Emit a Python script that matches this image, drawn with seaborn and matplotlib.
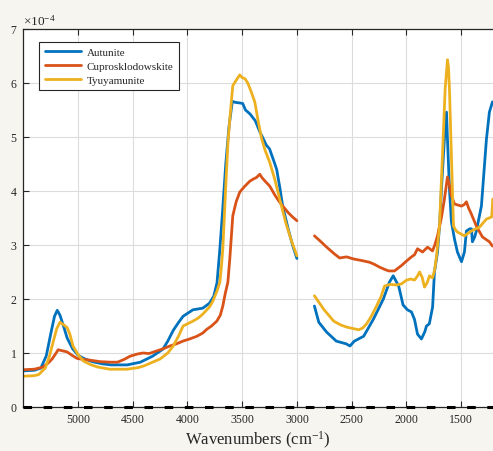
import numpy as np
import pandas as pd
import seaborn as sns
import matplotlib.pyplot as plt

# wavenumbers (cm-1) and absorbance (x1e-4); two segments, gap 3000-2840 removed
autunite_wn_a = [5500, 5400, 5340, 5290, 5250, 5215, 5190, 5165, 5130, 5100, 5050, 5000, 4950, 4870,
                 4780, 4700, 4550, 4430, 4320, 4225, 4180, 4130, 4080, 4040, 3950, 3860, 3800, 3760,
                 3730, 3705, 3680, 3650, 3620, 3590, 3560, 3520, 3495, 3470, 3430, 3380, 3340, 3320,
                 3280, 3250, 3210, 3185, 3155, 3130, 3080, 3040, 3000]
autunite_a = [0.67, 0.68, 0.72, 0.95, 1.35, 1.68, 1.79, 1.70, 1.48, 1.28, 1.08, 0.96, 0.90, 0.84,
              0.80, 0.78, 0.78, 0.83, 0.94, 1.07, 1.22, 1.42, 1.57, 1.68, 1.80, 1.83, 1.92, 2.05,
              2.30, 2.90, 3.60, 4.50, 5.20, 5.66, 5.64, 5.63, 5.62, 5.50, 5.43, 5.30, 5.10, 5.02,
              4.85, 4.78, 4.55, 4.40, 4.05, 3.72, 3.30, 3.00, 2.75]
autunite_wn_b = [2840, 2800, 2730, 2640, 2550, 2515, 2475, 2390, 2300, 2210, 2155, 2120, 2070, 2030,
                 1990, 1953, 1925, 1898, 1862, 1830, 1816, 1790, 1760, 1743, 1715, 1695, 1679, 1652,
                 1633, 1624, 1606, 1588, 1560, 1533, 1496, 1469, 1451, 1420, 1405, 1396, 1375, 1360,
                 1314, 1268, 1241, 1213]
autunite_b = [1.87, 1.57, 1.39, 1.22, 1.17, 1.13, 1.22, 1.31, 1.63, 2.00, 2.31, 2.43, 2.24, 1.89,
              1.80, 1.76, 1.62, 1.35, 1.26, 1.40, 1.50, 1.54, 1.85, 2.50, 2.87, 3.40, 4.04, 4.96,
              5.46, 4.96, 4.04, 3.43, 3.11, 2.87, 2.69, 2.87, 3.26, 3.30, 3.30, 3.06, 3.15, 3.26,
              3.72, 4.96, 5.46, 5.65]

cupro_wn_a = [5500, 5400, 5320, 5270, 5237, 5200, 5182, 5140, 5100, 5050, 5009, 4950, 4900, 4800,
              4700, 4640, 4580, 4525, 4460, 4407, 4350, 4279, 4220, 4160, 4100, 4042, 3980, 3914,
              3860, 3823, 3780, 3732, 3700, 3677, 3655, 3631, 3613, 3586, 3555, 3522, 3480, 3431,
              3400, 3370, 3339, 3320, 3290, 3248, 3200, 3160, 3129, 3080, 3040, 3000]
cupro_a = [0.69, 0.70, 0.74, 0.82, 0.89, 1.00, 1.06, 1.04, 1.02, 0.95, 0.90, 0.88, 0.87, 0.84,
           0.83, 0.83, 0.88, 0.94, 0.98, 1.00, 0.99, 1.04, 1.08, 1.13, 1.17, 1.22, 1.26, 1.31,
           1.37, 1.44, 1.50, 1.59, 1.70, 1.87, 2.10, 2.31, 2.75, 3.54, 3.80, 3.98, 4.08, 4.18,
           4.22, 4.25, 4.31, 4.25, 4.18, 4.09, 3.92, 3.80, 3.72, 3.60, 3.52, 3.45]
cupro_wn_b = [2840, 2780, 2728, 2660, 2610, 2546, 2480, 2427, 2380, 2336, 2290, 2245, 2200, 2162,
              2108, 2070, 2044, 2000, 1953, 1925, 1898, 1852, 1806, 1761, 1740, 1715, 1680, 1652,
              1624, 1606, 1588, 1560, 1496, 1470, 1451, 1430, 1405, 1360, 1305, 1241, 1213]
cupro_b = [3.17, 3.06, 2.96, 2.84, 2.76, 2.78, 2.74, 2.72, 2.70, 2.68, 2.64, 2.59, 2.55, 2.52,
           2.52, 2.58, 2.62, 2.70, 2.78, 2.82, 2.93, 2.87, 2.96, 2.89, 3.00, 3.17, 3.50, 3.85,
           4.26, 4.10, 3.91, 3.76, 3.72, 3.75, 3.80, 3.68, 3.57, 3.35, 3.15, 3.06, 2.98]

tyuya_wn_a = [5500, 5400, 5360, 5300, 5260, 5228, 5195, 5165, 5130, 5100, 5075, 5046, 5000, 4950,
              4880, 4820, 4710, 4550, 4450, 4400, 4330, 4250, 4180, 4130, 4080, 4040, 3990, 3950,
              3900, 3860, 3800, 3768, 3730, 3704, 3690, 3677, 3650, 3630, 3613, 3586, 3555, 3522,
              3500, 3475, 3449, 3420, 3385, 3350, 3321, 3290, 3248, 3200, 3157, 3100, 3050, 3000]
tyuya_a = [0.57, 0.58, 0.60, 0.72, 0.95, 1.20, 1.45, 1.57, 1.52, 1.47, 1.35, 1.13, 0.97, 0.85,
           0.78, 0.74, 0.70, 0.70, 0.73, 0.76, 0.82, 0.89, 1.00, 1.13, 1.32, 1.50, 1.55, 1.59,
           1.65, 1.72, 1.85, 1.96, 2.15, 2.31, 2.60, 2.93, 4.10, 4.90, 5.33, 5.95, 6.05, 6.15,
           6.10, 6.08, 6.00, 5.85, 5.65, 5.25, 4.96, 4.75, 4.53, 4.20, 3.85, 3.40, 3.08, 2.80]
tyuya_wn_b = [2840, 2755, 2664, 2600, 2546, 2480, 2436, 2400, 2363, 2320, 2272, 2230, 2199, 2150,
              2090, 2044, 1998, 1960, 1925, 1900, 1879, 1855, 1834, 1810, 1788, 1761, 1740, 1724,
              1697, 1670, 1645, 1633, 1624, 1615, 1606, 1588, 1569, 1550, 1533, 1469, 1405, 1332,
              1268, 1220, 1210]
tyuya_b = [2.06, 1.81, 1.59, 1.52, 1.48, 1.45, 1.43, 1.46, 1.54, 1.68, 1.87, 2.05, 2.24, 2.27,
           2.26, 2.28, 2.35, 2.37, 2.35, 2.42, 2.50, 2.40, 2.22, 2.30, 2.43, 2.39, 2.55, 2.80,
           3.35, 4.65, 5.90, 6.20, 6.43, 6.30, 5.89, 4.65, 3.35, 3.28, 3.24, 3.17, 3.26, 3.33,
           3.48, 3.52, 3.85]

minerals = ["Autunite", "Cuprosklodowskite", "Tyuyamunite"]
colors = ["#0072BD", "#D95319", "#EDB120"]

series = {
    "Autunite": [(autunite_wn_a, autunite_a), (autunite_wn_b, autunite_b)],
    "Cuprosklodowskite": [(cupro_wn_a, cupro_a), (cupro_wn_b, cupro_b)],
    "Tyuyamunite": [(tyuya_wn_a, tyuya_a), (tyuya_wn_b, tyuya_b)],
}

rows = []
for name, segs in series.items():
    for i, (wn, vals) in enumerate(segs):
        for w, v in zip(wn, vals):
            rows.append({"mineral": name, "seg": f"{name}{i}", "wn": w, "abs": v * 1e-4})
df = pd.DataFrame(rows)

sns.set_style("white")
plt.rcParams["font.family"] = ["Liberation Serif", "DejaVu Serif"]
plt.rcParams["mathtext.fontset"] = "custom"
plt.rcParams["mathtext.rm"] = "Liberation Serif"
plt.rcParams["mathtext.it"] = "Liberation Serif:italic"

fig = plt.figure(figsize=(4.93, 4.52), dpi=100, facecolor="#f6f5f0")
ax = fig.add_axes([23 / 493, 1 - 408 / 452, 1 - 23 / 493, (408 - 30) / 452])

sns.lineplot(data=df, x="wn", y="abs", hue="mineral", hue_order=minerals, palette=colors,
             units="seg", estimator=None, sort=False, lw=2.0, ax=ax)

# thick dashed baseline at zero
ax.axhline(0, color="k", lw=2.2, ls=(0, (2.8, 3.8)), clip_on=False, zorder=5)

ax.set_xlim(5503, 1208)
ax.set_ylim(0, 7e-4)
ax.set_xticks([5000, 4500, 4000, 3500, 3000, 2500, 2000, 1500])
ax.set_yticks(np.arange(0, 8) * 1e-4)
ax.ticklabel_format(axis="y", style="sci", scilimits=(-4, -4), useMathText=True)
ax.yaxis.get_offset_text().set_fontsize(9.5)
ax.yaxis.get_offset_text().set_color("#262626")

ax.grid(True, color="#dcdcdc", lw=0.8)
ax.tick_params(direction="in", length=4, width=0.8, labelsize=8.5, colors="#262626",
               top=True, bottom=True, left=True, pad=4)
for side in ["left", "bottom", "top"]:
    ax.spines[side].set_color("#262626")
    ax.spines[side].set_linewidth(0.9)
ax.spines["right"].set_visible(False)

ax.set_xlabel("Wavenumbers (cm$^{-1}$)", fontsize=12, color="#262626", labelpad=3)
ax.set_ylabel("")

handles, labels = ax.get_legend_handles_labels()
leg = ax.legend(handles, labels, loc="upper left", bbox_to_anchor=(0.034, 0.966),
                borderaxespad=0, fontsize=8, frameon=True, fancybox=False,
                framealpha=1, edgecolor="#262626", handlelength=3.3, handletextpad=0.5,
                borderpad=0.5, labelspacing=0.35)
leg.get_frame().set_linewidth(0.8)

fig.savefig("out.png", dpi=100, facecolor=fig.get_facecolor())
